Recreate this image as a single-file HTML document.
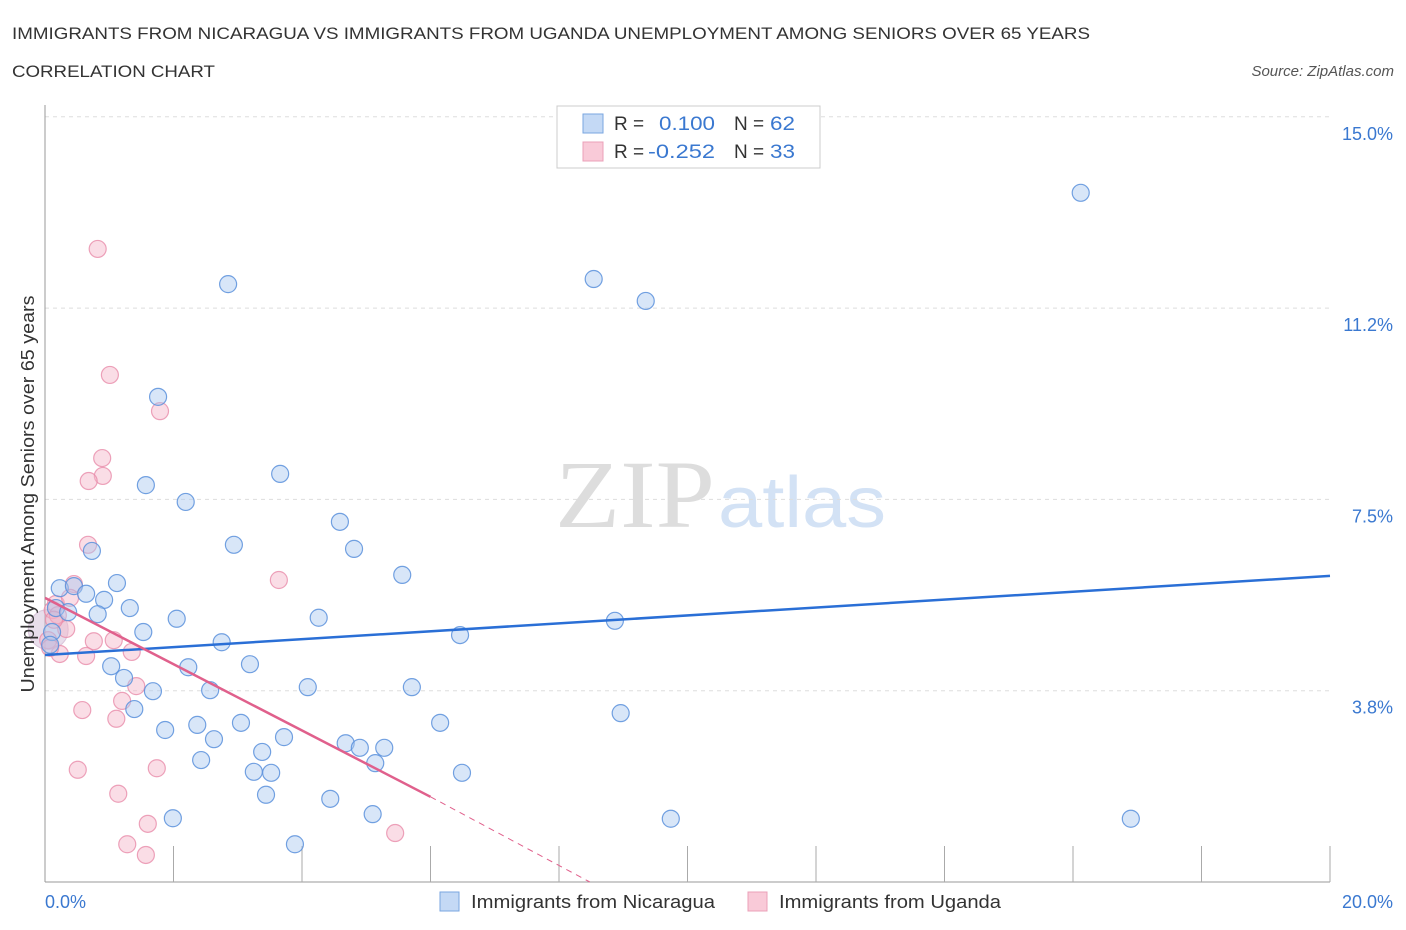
<!DOCTYPE html>
<html><head><meta charset="utf-8">
<style>
body{margin:0;background:#fff;font-family:"Liberation Sans",sans-serif;}
#wrap{position:relative;width:1406px;height:930px;overflow:hidden}
</style></head>
<body>
<div id="wrap">
<svg id="chart" width="1406" height="930">
  <text x="12" y="39" font-size="17" fill="#333" textLength="1078" lengthAdjust="spacingAndGlyphs">IMMIGRANTS FROM NICARAGUA VS IMMIGRANTS FROM UGANDA UNEMPLOYMENT AMONG SENIORS OVER 65 YEARS</text>
  <text x="12" y="77" font-size="17" fill="#333" textLength="203" lengthAdjust="spacingAndGlyphs">CORRELATION CHART</text>
  <text x="1394" y="76" font-size="15" fill="#555" font-style="italic" text-anchor="end">Source: ZipAtlas.com</text>
  <text x="555" y="527" font-size="96" fill="#ddd" font-family="Liberation Serif,serif" textLength="160" lengthAdjust="spacingAndGlyphs">ZIP</text>
  <text x="718" y="527" font-size="72" fill="#d3e2f5" textLength="168" lengthAdjust="spacingAndGlyphs">atlas</text>
  <g id="grid"></g>
  <g id="pts"></g>
  <g id="lines"></g>
  <text transform="translate(34,494) rotate(-90)" font-size="18" fill="#333" text-anchor="middle" textLength="397" lengthAdjust="spacingAndGlyphs">Unemployment Among Seniors over 65 years</text>
  <text x="45" y="908" font-size="18" fill="#3a78d0">0.0%</text>
  <text x="1393" y="908" font-size="18" fill="#3a78d0" text-anchor="end">20.0%</text>
  <g>
    <rect x="557" y="106" width="263" height="62" fill="#fff" stroke="#ccc"/>
    <rect x="583" y="114" width="20" height="19" fill="#c4d9f5" stroke="#7aa6e0"/>
    <rect x="583" y="142" width="20" height="19" fill="#f9cad8" stroke="#eba0b8"/>
    <text x="614" y="130" font-size="19" fill="#333">R = </text>
    <text x="659" y="130" font-size="19" fill="#3a78d0" textLength="56" lengthAdjust="spacingAndGlyphs">0.100</text>
    <text x="734" y="130" font-size="19" fill="#333">N = </text>
    <text x="770" y="130" font-size="19" fill="#3a78d0" textLength="25" lengthAdjust="spacingAndGlyphs">62</text>
    <text x="614" y="158" font-size="19" fill="#333">R = </text>
    <text x="648" y="158" font-size="19" fill="#3a78d0" textLength="67" lengthAdjust="spacingAndGlyphs">-0.252</text>
    <text x="734" y="158" font-size="19" fill="#333">N = </text>
    <text x="770" y="158" font-size="19" fill="#3a78d0" textLength="25" lengthAdjust="spacingAndGlyphs">33</text>
  </g>
  <g>
    <rect x="440" y="892" width="19" height="19" fill="#c4d9f5" stroke="#7aa6e0"/>
    <text x="471" y="908" font-size="18" fill="#333" textLength="244" lengthAdjust="spacingAndGlyphs">Immigrants from Nicaragua</text>
  </g>
  <g>
    <rect x="748" y="892" width="19" height="19" fill="#f9cad8" stroke="#eba0b8"/>
    <text x="779" y="908" font-size="18" fill="#333" textLength="222" lengthAdjust="spacingAndGlyphs">Immigrants from Uganda</text>
  </g>
</svg>
</div>
<script>
const blueX=[16.12,8.54,9.35,2.85,1.76,3.66,1.57,2.19,4.59,2.94,4.81,0.73,5.56,0.23,0.45,1.12,0.64,0.92,1.32,0.17,0.36,0.82,2.05,4.26,8.87,1.53,6.46,2.75,0.11,2.23,3.19,1.03,1.23,1.68,2.57,4.09,5.71,1.39,8.96,6.15,1.87,2.37,3.05,2.63,3.72,4.68,4.90,5.28,3.38,5.14,2.43,3.25,3.52,6.49,3.44,4.44,5.10,1.99,9.74,16.90,3.89,0.08];
const blueY=[13.51,11.82,11.39,11.72,9.51,8.00,7.78,7.45,7.06,6.61,6.53,6.49,6.02,5.76,5.80,5.86,5.65,5.53,5.37,5.37,5.29,5.25,5.16,5.18,5.12,4.90,4.84,4.70,4.90,4.21,4.27,4.23,4.00,3.74,3.76,3.82,3.82,3.39,3.31,3.12,2.98,3.08,3.12,2.80,2.84,2.72,2.63,2.63,2.55,2.33,2.39,2.16,2.14,2.14,1.71,1.63,1.33,1.25,1.24,1.24,0.74,4.65];
const pinkX=[0.82,1.01,1.79,0.89,0.90,0.68,0.67,3.64,0.45,0.17,0.12,0.39,0.20,0.33,0.05,0.76,1.07,1.35,0.64,0.23,0.08,0.14,1.42,1.20,0.58,1.11,0.51,1.74,1.14,1.60,1.28,5.45,1.57];
const pinkY=[12.41,9.94,9.23,8.31,7.96,7.86,6.61,5.92,5.84,5.45,5.33,5.57,5.23,4.96,4.74,4.72,4.74,4.51,4.43,4.47,4.59,5.14,3.84,3.55,3.37,3.20,2.20,2.23,1.73,1.14,0.74,0.96,0.53];
const yTicks=[3.75,7.5,11.25,15];
const yTickLabels=["3.8%","7.5%","11.2%","15.0%"];
const xTicks=[0,2,4,6,8,10,12,14,16,18,20];
const blueTrend=[4.45,6.00];
const pinkTrend=[5.57,1.67];
const pinkSolidEnd=6, pinkZeroX=8.48;

const NS="http://www.w3.org/2000/svg";
const sx=v=>45+v/20*1285;
const sy=v=>882-v/3.75*191.3;
function mk(tag,attrs,parent){const e=document.createElementNS(NS,tag);for(const k in attrs)e.setAttribute(k,attrs[k]);parent.appendChild(e);return e;}
const grid=document.getElementById('grid');
yTicks.forEach((t,i)=>{
  const l=mk('line',{x1:45,x2:1330,y1:sy(t),y2:sy(t),stroke:'#ddd','stroke-dasharray':'4,4'},grid);
  
  
  const tx=mk('text',{x:1393,y:sy(t)+23,'font-size':18,fill:'#3a78d0','text-anchor':'end'},grid);
  tx.textContent=yTickLabels[i];
  
  
});
const ya=mk('line',{x1:45,x2:45,y1:105,y2:882,stroke:'#999'},grid);


const xa=mk('line',{x1:45,x2:1330,y1:882,y2:882,stroke:'#999'},grid);


xTicks.forEach(t=>{
  const l=mk('line',{x1:sx(t),x2:sx(t),y1:882,y2:t===0?882:846,stroke:'#aaa'},grid);
  
  
});
const pts=document.getElementById('pts');
const big=mk('circle',{cx:sx(0.05),cy:sy(4.95),r:20,fill:'rgba(210,190,215,0.5)',stroke:'rgba(200,170,200,0.6)'},pts);


pinkX.forEach((x,i)=>{
  const c=mk('circle',{cx:sx(x),cy:sy(pinkY[i]),r:8.5,fill:'rgba(245,180,200,0.45)',stroke:'rgba(232,140,170,0.8)','stroke-width':1.2},pts);
  
  
});
blueX.forEach((x,i)=>{
  const c=mk('circle',{cx:sx(x),cy:sy(blueY[i]),r:8.5,fill:'rgba(168,200,240,0.45)',stroke:'rgba(90,145,220,0.85)','stroke-width':1.2},pts);
  
  
});
const lines=document.getElementById('lines');
const bl=mk('line',{x1:sx(0),y1:sy(blueTrend[0]),x2:sx(20),y2:sy(blueTrend[1]),stroke:'#2a6fd6','stroke-width':2.5},lines);


const pl=mk('line',{x1:sx(0),y1:sy(pinkTrend[0]),x2:sx(pinkSolidEnd),y2:sy(pinkTrend[1]),stroke:'#e0608c','stroke-width':2.5},lines);


const pd=mk('line',{x1:sx(pinkSolidEnd),y1:sy(pinkTrend[1]),x2:sx(pinkZeroX),y2:sy(0),stroke:'#e0608c','stroke-width':1,'stroke-dasharray':'6,5'},lines);


</script>
</body></html>
